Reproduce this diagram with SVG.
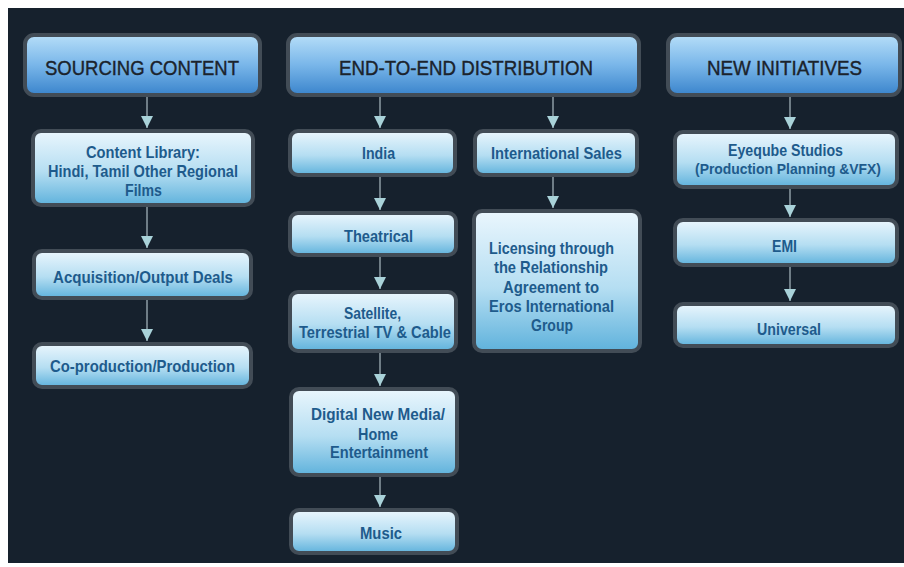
<svg xmlns="http://www.w3.org/2000/svg" width="904" height="567" viewBox="0 0 904 567">
  <defs>
    <linearGradient id="gh" x1="0" y1="0" x2="0" y2="1">
      <stop offset="0" stop-color="#b6def8"/>
      <stop offset="0.5" stop-color="#79b6e9"/>
      <stop offset="1" stop-color="#3a84cc"/>
    </linearGradient>
    <linearGradient id="gb" x1="0" y1="0" x2="0" y2="1">
      <stop offset="0" stop-color="#eaf6fd"/>
      <stop offset="0.55" stop-color="#b5def2"/>
      <stop offset="1" stop-color="#5fb2dc"/>
    </linearGradient>
    <marker id="ah" markerUnits="userSpaceOnUse" markerWidth="14" markerHeight="14" viewBox="0 0 14 14" refX="13" refY="7" orient="auto">
      <path d="M1,1 L13,7 L1,13 Z" fill="#a9d2d9"/>
    </marker>
  </defs>
  <style>
    .hdr { fill: url(#gh); stroke: #424c56; stroke-width: 4; }
    .box { fill: url(#gb); stroke: #424c56; stroke-width: 4; }
    .ht { font-family: "Liberation Sans", Arial, sans-serif; font-size: 21px; fill: #1b232c; stroke: #1b232c; stroke-width: 0.4; text-anchor: middle; }
    .bt { font-family: "Liberation Sans", Arial, sans-serif; font-size: 17px; font-weight: bold; fill: #1e5b8c; text-anchor: middle; }
    .sm { font-size: 15.5px; }
    .cn { stroke: #8e9ca4; stroke-width: 1.5; fill: none; marker-end: url(#ah); }
  </style>
  <rect x="8" y="8" width="896" height="555" fill="#16212d"/>

  <g id="connectors">
    <line class="cn" x1="147" y1="97" x2="147" y2="128"/>
    <line class="cn" x1="147" y1="207" x2="147" y2="248"/>
    <line class="cn" x1="147" y1="300" x2="147" y2="341"/>
    <line class="cn" x1="380" y1="97" x2="380" y2="128"/>
    <line class="cn" x1="380" y1="177" x2="380" y2="210"/>
    <line class="cn" x1="380" y1="257" x2="380" y2="289"/>
    <line class="cn" x1="380" y1="353" x2="380" y2="386"/>
    <line class="cn" x1="380" y1="477" x2="380" y2="507"/>
    <line class="cn" x1="553" y1="97" x2="553" y2="128"/>
    <line class="cn" x1="553" y1="177" x2="553" y2="208"/>
    <line class="cn" x1="790" y1="97" x2="790" y2="129"/>
    <line class="cn" x1="790" y1="189" x2="790" y2="217"/>
    <line class="cn" x1="790" y1="267" x2="790" y2="301"/>
  </g>

  <g id="sourcing-content">
    <rect class="hdr" x="25" y="35" width="235" height="60" rx="9"/>
    <text class="ht" x="142" y="75" textLength="194" lengthAdjust="spacingAndGlyphs">SOURCING CONTENT</text>
  </g>
  <g id="end-to-end-distribution">
    <rect class="hdr" x="288" y="35" width="351" height="60" rx="9"/>
    <text class="ht" x="466" y="75" textLength="254" lengthAdjust="spacingAndGlyphs">END-TO-END DISTRIBUTION</text>
  </g>
  <g id="new-initiatives">
    <rect class="hdr" x="668" y="35" width="232" height="60" rx="9"/>
    <text class="ht" x="784.5" y="75" textLength="155" lengthAdjust="spacingAndGlyphs">NEW INITIATIVES</text>
  </g>

  <g id="content-library">
    <rect class="box" x="33" y="131" width="220" height="74" rx="8"/>
    <text class="bt" x="143" y="158" textLength="114" lengthAdjust="spacingAndGlyphs">Content Library:</text>
    <text class="bt" x="143" y="177" textLength="190" lengthAdjust="spacingAndGlyphs">Hindi, Tamil Other Regional</text>
    <text class="bt" x="143.5" y="196" textLength="37" lengthAdjust="spacingAndGlyphs">Films</text>
  </g>
  <g id="acquisition">
    <rect class="box" x="34" y="251" width="217" height="47" rx="8"/>
    <text class="bt" x="143" y="283" textLength="180" lengthAdjust="spacingAndGlyphs">Acquisition/Output Deals</text>
  </g>
  <g id="co-production">
    <rect class="box" x="34" y="344" width="217" height="43" rx="8"/>
    <text class="bt" x="142.5" y="372" textLength="185" lengthAdjust="spacingAndGlyphs">Co-production/Production</text>
  </g>

  <g id="india">
    <rect class="box" x="290" y="131" width="165" height="44" rx="8"/>
    <text class="bt" x="378.5" y="159" textLength="33" lengthAdjust="spacingAndGlyphs">India</text>
  </g>
  <g id="international-sales">
    <rect class="box" x="475" y="131" width="162" height="44" rx="8"/>
    <text class="bt" x="556.5" y="159" textLength="131" lengthAdjust="spacingAndGlyphs">International Sales</text>
  </g>
  <g id="theatrical">
    <rect class="box" x="290" y="213" width="166" height="42" rx="8"/>
    <text class="bt" x="378.5" y="242" textLength="69" lengthAdjust="spacingAndGlyphs">Theatrical</text>
  </g>
  <g id="satellite">
    <rect class="box" x="290" y="292" width="166" height="59" rx="8"/>
    <text class="bt" x="372.5" y="319" textLength="57" lengthAdjust="spacingAndGlyphs">Satellite,</text>
    <text class="bt" x="375" y="338" textLength="152" lengthAdjust="spacingAndGlyphs">Terrestrial TV &amp; Cable</text>
  </g>
  <g id="licensing">
    <rect class="box" x="474" y="211" width="166" height="140" rx="8"/>
    <text class="bt" x="551.5" y="254" textLength="125" lengthAdjust="spacingAndGlyphs">Licensing through</text>
    <text class="bt" x="551" y="273" textLength="114" lengthAdjust="spacingAndGlyphs">the Relationship</text>
    <text class="bt" x="551" y="293" textLength="96" lengthAdjust="spacingAndGlyphs">Agreement to</text>
    <text class="bt" x="551.5" y="312" textLength="125" lengthAdjust="spacingAndGlyphs">Eros International</text>
    <text class="bt" x="552" y="331" textLength="42" lengthAdjust="spacingAndGlyphs">Group</text>
  </g>
  <g id="digital-new-media">
    <rect class="box" x="291" y="389" width="166" height="86" rx="8"/>
    <text class="bt" x="378" y="420" textLength="134" lengthAdjust="spacingAndGlyphs">Digital New Media/</text>
    <text class="bt" x="378" y="440" textLength="40" lengthAdjust="spacingAndGlyphs">Home</text>
    <text class="bt" x="379" y="458" textLength="98" lengthAdjust="spacingAndGlyphs">Entertainment</text>
  </g>
  <g id="music">
    <rect class="box" x="291" y="510" width="166" height="43" rx="8"/>
    <text class="bt" x="381" y="539" textLength="42" lengthAdjust="spacingAndGlyphs">Music</text>
  </g>

  <g id="eyeqube-studios">
    <rect class="box" x="675" y="132" width="222" height="55" rx="8"/>
    <text class="bt" x="785.5" y="156" textLength="115" lengthAdjust="spacingAndGlyphs">Eyeqube Studios</text>
    <text class="bt sm" x="788" y="174" textLength="186" lengthAdjust="spacingAndGlyphs">(Production Planning &amp;VFX)</text>
  </g>
  <g id="emi">
    <rect class="box" x="675" y="220" width="222" height="45" rx="8"/>
    <text class="bt" x="784.5" y="252" textLength="25" lengthAdjust="spacingAndGlyphs">EMI</text>
  </g>
  <g id="universal">
    <rect class="box" x="675" y="304" width="222" height="42" rx="8"/>
    <text class="bt" x="789" y="335" textLength="64" lengthAdjust="spacingAndGlyphs">Universal</text>
  </g>
</svg>
